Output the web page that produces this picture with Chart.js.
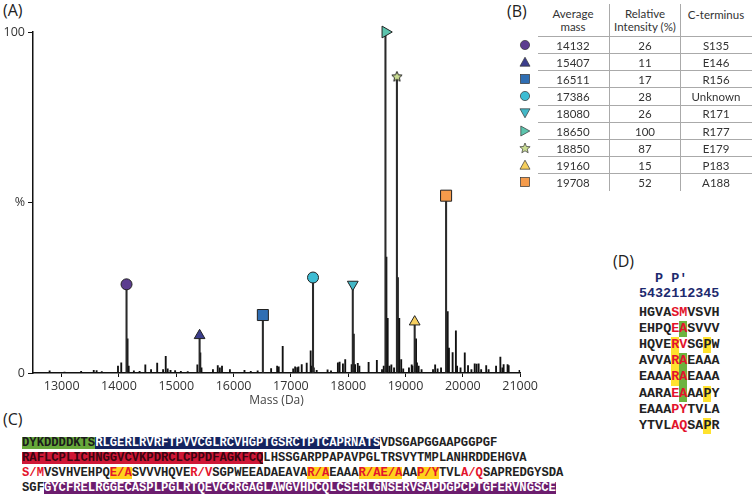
<!DOCTYPE html>
<html>
<head>
<meta charset="utf-8">
<script src="https://cdn.jsdelivr.net/npm/chart.js@4.4.0/dist/chart.umd.min.js"></script>
<style>
body { margin:0; width:754px; height:497px; background:#fff; position:relative; overflow:hidden; }
.painel { position:absolute; font-family:'Open Sans', sans-serif; font-size:16px; color:#222; line-height:16px; }
#grafico { position:absolute; left:0; top:0; }
.tab { position:absolute; font-family:Lato, sans-serif; font-size:11.5px; color:#333; transform:translate(-50%,-50%); white-space:nowrap; text-align:center; line-height:13px; }
.linha { position:absolute; background:#aaa; }
.seqC { position:absolute; left:22px; font-family:'Liberation Mono', monospace; font-weight:bold; font-size:12.2px; white-space:pre; color:#222; }
.seqC span, .seqD span { display:inline-block; line-height:12px; height:12px; }
.seqD { position:absolute; left:639px; font-family:'Liberation Mono', monospace; font-weight:bold; font-size:13.4px; white-space:pre; color:#222; }
.seqD span { line-height:16.2px; height:16.2px; }
.verde { background:#66a83a; color:#1b1b1b; }
.azul { background:#15245e; color:#fff; }
.verm { background:#cf1736; color:#3a0510; }
.amar { background:#ffd21c; color:#e3142c; }
.txtv { color:#e3142c; }
.roxo { background:#6c1d6e; color:#fff; }
.fundoA { background:#ffe22e; }
.fundoV { background:#6db33f; }
</style>
</head>
<body>
<div class="painel" style="left:3px;top:2px">(A)</div>
<div class="painel" style="left:507px;top:3px">(B)</div>
<div class="painel" style="left:3px;top:411px">(C)</div>
<div class="painel" style="left:613px;top:253px">(D)</div>
<canvas id="grafico" width="540" height="412"></canvas>
<div id="tabela"></div>
<div id="painelC"></div>
<div id="painelD"></div>
<script>
// picos marcados (tabela B)
const massaPicos = [14132, 15407, 16511, 17386, 18080, 18650, 18850, 19160, 19708];
const intensPicos = [26, 11, 17, 28, 26, 100, 87, 15, 52];
const cTerminal = ['S135', 'E146', 'R156', 'Unknown', 'R171', 'R177', 'E179', 'P183', 'A188'];

// picos menores do espectro
const massaRuido = [12790, 13050, 13340, 13560, 13610, 13700, 13983, 14040, 14150, 14170, 14260, 14360, 14460, 14560, 14667, 14770, 14816, 14850, 14900, 14980, 15080, 15200, 15368, 15420, 15440, 15640, 15724, 15760, 15798, 15936, 16190, 16300, 16420, 16655, 16760, 16788, 16857, 17040, 17074, 17110, 17132, 17189, 17276, 17345, 17360, 17400, 17450, 17640, 17700, 17820, 17850, 17908, 17948, 18060, 18098, 18120, 18167, 18195, 18356, 18500, 18590, 18620, 18667, 18689, 18720, 18753, 18800, 18867, 18891, 18925, 18960, 19060, 19108, 19120, 19184, 19200, 19229, 19280, 19480, 19517, 19560, 19620, 19736, 19758, 19822, 19879, 19900, 19960, 20034, 20091, 20150, 20207, 20240, 20276, 20320, 20408, 20450, 20580, 20655, 20690, 20712, 20781, 20800, 20990];
const intensRuido = [0.6, 0.3, 0.5, 0.8, 0.7, 0.4, 2.0, 3.0, 10, 2.0, 0.6, 0.5, 2.4, 1.0, 2.9, 1.0, 4.9, 1.2, 0.8, 0.7, 0.5, 0.4, 2.4, 5.9, 1.5, 1.0, 2.2, 1.5, 2.0, 1.0, 0.8, 0.5, 0.6, 1.3, 2.0, 1.8, 7.8, 1.2, 1.8, 1.6, 1.8, 2.5, 2.9, 6.5, 2.0, 1.5, 0.8, 0.9, 0.6, 3.0, 3.2, 2.7, 3.9, 2.5, 11.4, 2.5, 2.8, 2.0, 3.1, 3.7, 1.0, 2.0, 34, 16, 2.0, 2.4, 1.5, 28, 16, 3.9, 1.2, 1.5, 2.4, 2.0, 10, 3.0, 2.0, 1.0, 1.0, 2.4, 1.2, 1.5, 18, 7.3, 6.0, 12.4, 2.0, 1.5, 5.9, 2.2, 1.0, 2.7, 2.6, 2.7, 1.0, 2.2, 1.0, 2.0, 4.7, 1.5, 2.5, 2.5, 2.2, 0.8];

const ticksX = [13000, 14000, 15000, 16000, 17000, 18000, 19000, 20000, 21000];
const ticksY = [0, 50, 100];

// estilo dos marcadores
const coresPicos = ['#5c3d8f', '#3b3d8c', '#2f6eb3', '#3dbcd3', '#43b8c7', '#5cc4ad', '#c9dc92', '#f6cf5e', '#f59b4b'];
const formaPicos = ['circle', 'triangle', 'rect', 'circle', 'down', 'right', 'star', 'triangle', 'rect'];

function estrela(cor, tam) {
    const c = document.createElement('canvas');
    c.width = tam; c.height = tam;
    const g = c.getContext('2d');
    const m = tam / 2;
    g.beginPath();
    for (let i = 0; i < 10; i++) {
        const r = i % 2 ? m * 0.42 : m * 0.9;
        const a = -Math.PI / 2 + i * Math.PI / 5;
        g.lineTo(m + r * Math.cos(a), m + 0.5 + r * Math.sin(a));
    }
    g.closePath();
    g.fillStyle = cor;
    g.fill();
    g.strokeStyle = '#222';
    g.lineWidth = 1;
    g.stroke();
    return c;
}

const estiloPonto = formaPicos.map((f, i) => {
    if (f === 'star') return estrela(coresPicos[i], 12);
    if (f === 'down' || f === 'right') return 'triangle';
    return f;
});
const rotacao = formaPicos.map(f => f === 'down' ? 180 : (f === 'right' ? 90 : 0));
const raio = formaPicos.map(f => f === 'rect' ? 7.8 : (f === 'circle' ? 5.5 : (f === 'right' ? 6.8 : 6.2)));

Chart.defaults.font.family = "'Open Sans', sans-serif";
Chart.defaults.color = '#333';

new Chart(document.getElementById('grafico').getContext('2d'), {
    type: 'bar',
    data: {
        datasets: [
            {
                type: 'scatter',
                data: massaPicos.map((m, i) => ({ x: m, y: intensPicos[i] })),
                pointStyle: estiloPonto,
                rotation: rotacao,
                pointRadius: raio,
                backgroundColor: coresPicos,
                borderColor: '#222',
                borderWidth: 1,
                clip: false,
                order: 0
            },
            {
                data: massaPicos.map((m, i) => ({ x: m, y: intensPicos[i] })),
                backgroundColor: '#2a2a2a',
                barThickness: 1.4,
                grouped: false,
                order: 1
            },
            {
                data: massaRuido.map((m, i) => ({ x: m, y: intensRuido[i] })),
                backgroundColor: '#111',
                barThickness: 1.2,
                grouped: false,
                order: 2
            }
        ]
    },
    options: {
        responsive: false,
        animation: false,
        devicePixelRatio: 1,
        layout: { padding: { top: 32, right: 14, left: 0, bottom: 0 } },
        plugins: { legend: { display: false }, tooltip: { enabled: false } },
        scales: {
            x: {
                type: 'linear',
                min: 12500,
                max: 21000,
                offset: false,
                afterBuildTicks: s => { s.ticks = ticksX.map(v => ({ value: v })); },
                afterFit: s => { s.height = 39; },
                ticks: { font: { size: 12.5 }, color: '#333', padding: 2, maxRotation: 0, autoSkip: false, callback: v => String(v) },
                grid: { offset: false, drawOnChartArea: false, drawTicks: true, tickLength: 4, color: '#111', lineWidth: 1 },
                border: { color: '#111', width: 1.5 },
                title: { display: true, text: 'Mass (Da)', color: '#444', font: { size: 12 }, padding: { top: 0, bottom: 4 } }
            },
            y: {
                min: 0,
                max: 100,
                afterBuildTicks: s => { s.ticks = ticksY.map(v => ({ value: v })); },
                afterFit: s => { s.width = 33; },
                ticks: { font: { size: 12.5 }, color: '#333', padding: 3, callback: v => v === 50 ? '%' : String(v) },
                grid: { drawOnChartArea: false, drawTicks: true, tickLength: 5, color: '#111', lineWidth: 1 },
                border: { color: '#111', width: 1.5 }
            }
        }
    }
});

// (B) tabela
const tabela = document.getElementById('tabela');
function texto(pai, x, y, s, cls) {
    const d = document.createElement('div');
    d.className = cls;
    d.style.left = x + 'px';
    d.style.top = y + 'px';
    d.innerHTML = s;
    pai.appendChild(d);
}
function linha(pai, x, y, w, h) {
    const d = document.createElement('div');
    d.className = 'linha';
    d.style.left = x + 'px'; d.style.top = y + 'px';
    d.style.width = w + 'px'; d.style.height = h + 'px';
    pai.appendChild(d);
}
texto(tabela, 573, 20, 'Average<br>mass', 'tab');
texto(tabela, 645, 20, 'Relative<br>Intensity (%)', 'tab');
texto(tabela, 716, 13.5, 'C-terminus', 'tab');
linha(tabela, 609, 4, 1, 187);
linha(tabela, 680, 4, 1, 187);
const alturaLinha = 17.2;
function simbolo(forma, cor) {
    let s = '';
    if (forma === 'circle') s = '<circle cx="6" cy="6" r="4.6"/>';
    else if (forma === 'rect') s = '<rect x="1.5" y="1.5" width="9" height="9"/>';
    else if (forma === 'triangle') s = '<polygon points="6,1.2 11,10.2 1,10.2"/>';
    else if (forma === 'down') s = '<polygon points="1,1.8 11,1.8 6,10.8"/>';
    else if (forma === 'right') s = '<polygon points="1.8,1 10.8,6 1.8,11"/>';
    else {
        const p = [];
        for (let i = 0; i < 10; i++) {
            const r = i % 2 ? 2.4 : 5.4;
            const a = -Math.PI / 2 + i * Math.PI / 5;
            p.push((6 + r * Math.cos(a)).toFixed(2) + ',' + (6.4 + r * Math.sin(a)).toFixed(2));
        }
        s = '<polygon points="' + p.join(' ') + '"/>';
    }
    return '<svg width="12" height="12" style="display:block"><g fill="' + cor + '" stroke="#333" stroke-width="0.7">' + s + '</g></svg>';
}
massaPicos.forEach((m, i) => {
    const y0 = 35.7 + i * alturaLinha;
    linha(tabela, 538, y0, 214, 1);
    const yc = y0 + alturaLinha / 2 + 0.3;
    texto(tabela, 525, yc, simbolo(formaPicos[i], coresPicos[i]), 'tab');
    texto(tabela, 573, yc, m, 'tab');
    texto(tabela, 645, yc, intensPicos[i], 'tab');
    texto(tabela, 716, yc, cTerminal[i], 'tab');
});

// (C) sequência
const seqC = [
    [['DYKDDDDKTS', 'verde'], ['RLGERLRVRFTPVVCGLRCVHGPTGSRCTPTCAPRNATS', 'azul'], ['VDSGAPGGAAPGGPGF', '']],
    [['RAFLCPLICHNGGVCVKPDRCLCPPDFAGKFCQ', 'verm'], ['LHSSGARPPAPAVPGLTRSVYTMPLANHRDDEHGVA', '']],
    [['S/M', 'txtv'], ['VSVHVEHPQ', ''], ['E/A', 'amar'], ['SVVVHQVE', ''], ['R/V', 'txtv'], ['SGPWEEADAEAVA', ''], ['R/A', 'amar'], ['EAAA', ''], ['R/AE/A', 'amar'], ['AA', ''], ['P/Y', 'amar'], ['TVL', ''], ['A/Q', 'txtv'], ['SAPREDGYSDA', '']],
    [['SGF', ''], ['GYCFRELRGGECASPLPGLRTQEVCCRGAGLAWGVHDCQLCSERLGNSERVSAPDGPCPTGFERVNGSCE', 'roxo']]
];
const painelC = document.getElementById('painelC');
seqC.forEach((partes, i) => {
    const d = document.createElement('div');
    d.className = 'seqC';
    d.style.top = (436.3 + i * 14.8) + 'px';
    d.innerHTML = partes.map(p => '<span class="' + p[1] + '">' + p[0] + '</span>').join('');
    painelC.appendChild(d);
});

// (D) sítios de clivagem
const seqD = ['HGVASMVSVH', 'EHPQEASVVV', 'HQVERVSGPW', 'AVVARAEAAA', 'EAAARAEAAA', 'AARAEAAAPY', 'EAAAPYTVLA', 'YTVLAQSAPR'];
const fundoD = ['..........', '.....g....', '....y...y.', '....yg....', '....yg....', '.....g..y.', '..........', '........y.'];
const painelD = document.getElementById('painelD');
const cab1 = document.createElement('div');
cab1.className = 'seqD';
cab1.style.top = '271px';
cab1.style.color = '#1d2a6e';
cab1.innerHTML = '<span>  P P\u2032</span>';
painelD.appendChild(cab1);
const cab2 = document.createElement('div');
cab2.className = 'seqD';
cab2.style.top = '286px';
cab2.style.color = '#1d2a6e';
cab2.innerHTML = '<span>5432112345</span>';
painelD.appendChild(cab2);
seqD.forEach((s, i) => {
    const d = document.createElement('div');
    d.className = 'seqD';
    d.style.top = (304.6 + i * 16.2) + 'px';
    let h = '';
    for (let k = 0; k < s.length; k++) {
        const f = fundoD[i][k];
        const cls = (f === 'y' ? 'fundoA' : f === 'g' ? 'fundoV' : '');
        const cor = (k === 4 || k === 5) ? ' style="color:#e3142c"' : '';
        h += '<span class="' + cls + '"' + cor + '>' + s[k] + '</span>';
    }
    d.innerHTML = h;
    painelD.appendChild(d);
});
</script>
</body>
</html>
